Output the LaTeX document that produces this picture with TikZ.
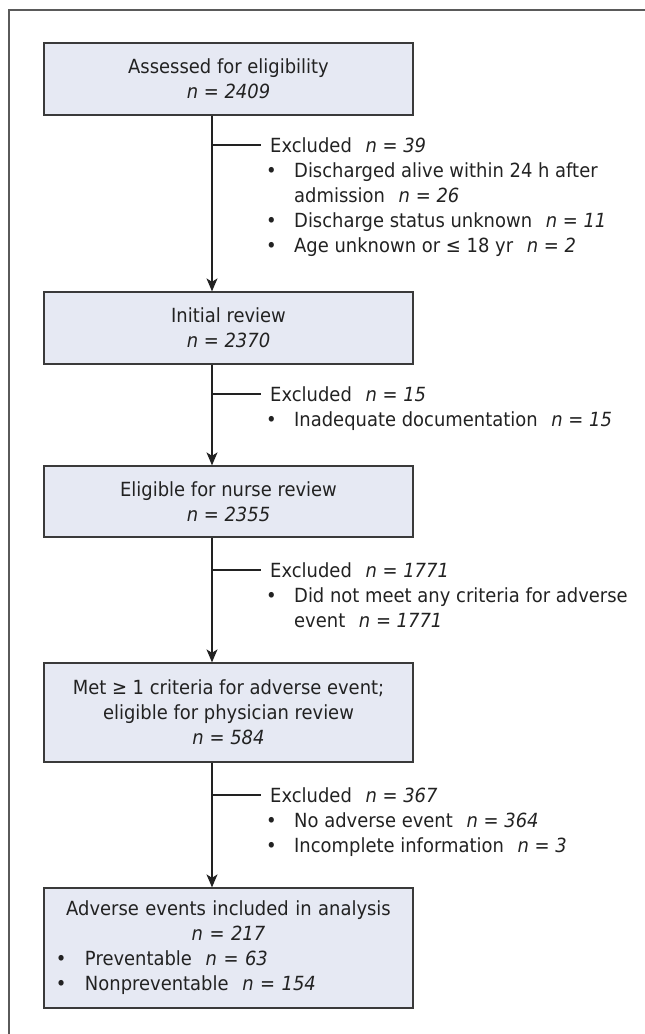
\documentclass[tikz,border=0pt]{standalone}
\usepackage{fontspec}
\setmainfont{DejaVu Sans}[FakeStretch=0.92]
\usetikzlibrary{arrows.meta}
\definecolor{boxfill}{HTML}{E6E9F3}
\definecolor{boxline}{HTML}{3A3A3A}
\definecolor{frameline}{HTML}{5A5A5A}
\definecolor{inkc}{HTML}{222222}
\newcommand{\nval}[1]{\textit{n = #1}}
\newcommand{\gap}{\hspace{0.7em}}
\newcommand{\bul}{\makebox[28pt][l]{\textbullet}}
\begin{document}
\begin{tikzpicture}[x=1pt,y=-1pt,
  every node/.style={font=\fontsize{19.5}{25}\selectfont, text=inkc},
  flowbox/.style={draw=boxline, line width=1.3pt, fill=boxfill, minimum width=369pt, inner sep=0pt, align=center},
  txt/.style={anchor=base west, inner sep=0pt},
  link/.style={line width=1.2pt, draw=inkc},
  arr/.style={link, -{Stealth[length=13pt,width=11pt,inset=3.5pt]}}]
\useasboundingbox (0,0) rectangle (645,1034);
\draw[frameline, line width=1.4pt] (9,1040) -- (9,10) -- (650,10);
\coordinate (spine) at (212,0);

\node[flowbox, minimum height=72pt] (b1) at (228.5,79) {Assessed for eligibility\\ \nval{2409}};
\node[flowbox, minimum height=72pt] (b2) at (228.5,328) {Initial review\\ \nval{2370}};
\node[flowbox, minimum height=71pt] (b3) at (228.5,501.5) {Eligible for nurse review\\ \nval{2355}};
\node[flowbox, minimum height=99pt] (b4) at (228.5,712.5) {Met ≥ 1 criteria for adverse event;\\ eligible for physician review\\ \nval{584}};
\node[flowbox, minimum height=120pt, text width=345pt, align=left] (b5) at (228.5,948)
  {{\centering Adverse events included in analysis\\ \nval{217}\par}
   \makebox[29pt][l]{\textbullet}Preventable\gap\nval{63}\\
   \makebox[29pt][l]{\textbullet}Nonpreventable\gap\nval{154}};

\draw[arr] (b1.south -| spine) -- (b2.north -| spine);
\draw[arr] (b2.south -| spine) -- (b3.north -| spine);
\draw[arr] (b3.south -| spine) -- (b4.north -| spine);
\draw[arr] (b4.south -| spine) -- (b5.north -| spine);

% exclusion 1
\coordinate (j1) at (212,145); \coordinate (k1) at (261,145);
\draw[link] (j1) -- (k1);
\node[txt] (e1) at (270,152) {Excluded\gap\nval{39}};
\node[txt] (e1a) at (266,177) {\bul Discharged alive within 24 h after};
\node[txt] (e1b) at (294,202) {admission\gap\nval{26}};
\node[txt] (e1c) at (266,227) {\bul Discharge status unknown\gap\nval{11}};
\node[txt] (e1d) at (266,252) {\bul Age unknown or ≤ 18 yr\gap\nval{2}};

% exclusion 2
\coordinate (j2) at (212,394); \coordinate (k2) at (261,394);
\draw[link] (j2) -- (k2);
\node[txt] (e2) at (270,401) {Excluded\gap\nval{15}};
\node[txt] (e2a) at (266,426) {\bul Inadequate documentation\gap\nval{15}};

% exclusion 3
\coordinate (j3) at (212,570); \coordinate (k3) at (261,570);
\draw[link] (j3) -- (k3);
\node[txt] (e3) at (270,577) {Excluded\gap\nval{1771}};
\node[txt] (e3a) at (266,602) {\bul Did not meet any criteria for adverse};
\node[txt] (e3b) at (294,627) {event\gap\nval{1771}};

% exclusion 4
\coordinate (j4) at (212,795); \coordinate (k4) at (261,795);
\draw[link] (j4) -- (k4);
\node[txt] (e4) at (270,802) {Excluded\gap\nval{367}};
\node[txt] (e4a) at (266,827) {\bul No adverse event\gap\nval{364}};
\node[txt] (e4b) at (266,852) {\bul Incomplete information\gap\nval{3}};
\end{tikzpicture}
\end{document}
